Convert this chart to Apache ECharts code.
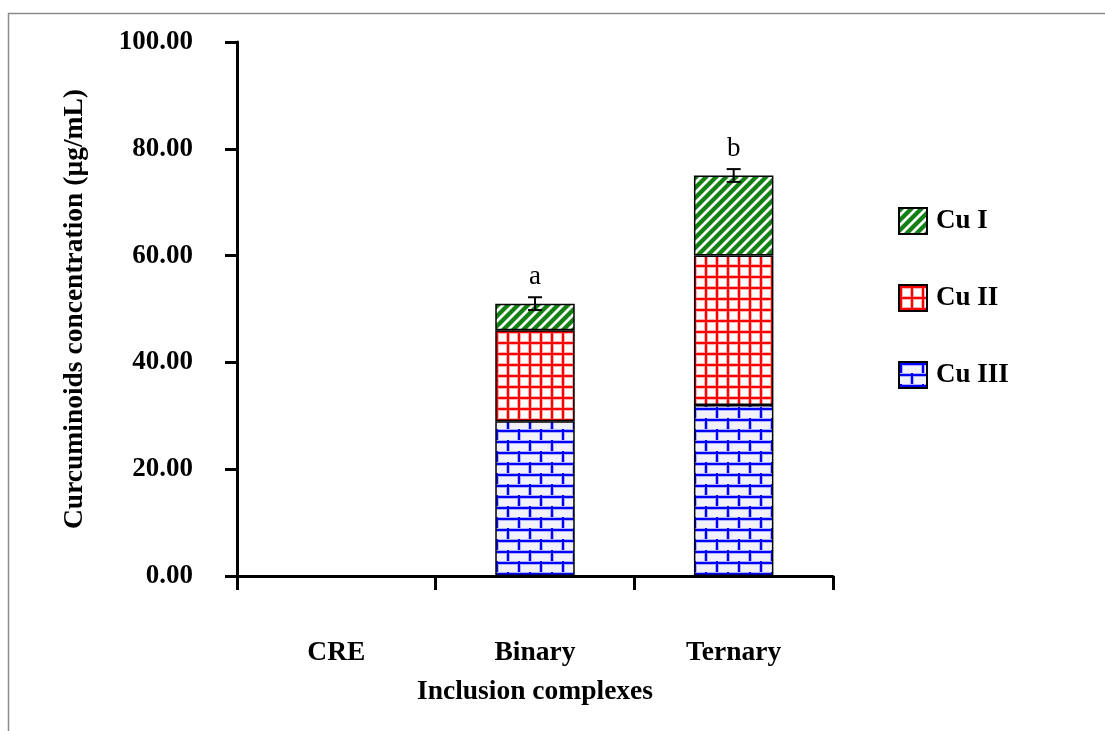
<!DOCTYPE html>
<html>
<head>
<meta charset="utf-8">
<style>
  html, body { margin: 0; padding: 0; background: #fff; }
  #chart { width: 1105px; height: 731px; }
</style>
<script src="https://cdn.jsdelivr.net/npm/echarts@6/dist/echarts.min.js"></script>
</head>
<body>
<div id="chart"></div>
<script>
// Inclusion complexes and curcuminoid fractions (µg/mL)
const categories = ['CRE', 'Binary', 'Ternary'];
const cuIII = [null, 29, 32];
const cuII = [null, 17, 28];
const cuI = [null, 5, 15];
const errors = [null, 1.2, 1.2];
const letters = ['', 'a', 'b'];
const yTicks = { min: 0, max: 100, interval: 20 };

const FONT = '"Liberation Serif", "Times New Roman", serif';

// Hatch fills
function makeTile(w, h, draw) {
  const c = document.createElement('canvas');
  c.width = w; c.height = h;
  const ctx = c.getContext('2d');
  ctx.fillStyle = '#ffffff';
  ctx.fillRect(0, 0, w, h);
  draw(ctx, w, h);
  return c;
}
const stripeTile = makeTile(10, 10, (ctx, w, h) => {
  const img = ctx.getImageData(0, 0, w, h);
  for (let y = 0; y < h; y++) {
    for (let x = 0; x < w; x++) {
      const p = (x + y) % 10;
      const i = (y * w + x) * 4;
      let r = 255, g = 255, b = 255;
      if (p < 5) { r = 18; g = 128; b = 18; }
      else if (p === 5 || p === 9) { r = 130; g = 190; b = 130; }
      img.data[i] = r; img.data[i + 1] = g; img.data[i + 2] = b; img.data[i + 3] = 255;
    }
  }
  ctx.putImageData(img, 0, 0);
});
const gridTile = makeTile(11, 11, (ctx) => {
  ctx.fillStyle = '#ffb0b0';
  ctx.fillRect(0, 0, 4, 11);
  ctx.fillRect(0, 0, 11, 4);
  ctx.fillStyle = '#ff0000';
  ctx.fillRect(1, 0, 2, 11);
  ctx.fillRect(0, 1, 11, 2);
});
const brickTile = makeTile(22, 22, (ctx) => {
  ctx.fillStyle = '#f2f2ff';
  ctx.fillRect(0, 0, 22, 22);
  ctx.fillStyle = '#b0b0ff';
  ctx.fillRect(0, 0, 22, 4);
  ctx.fillRect(0, 11, 22, 4);
  ctx.fillRect(0, 0, 4, 11);
  ctx.fillRect(11, 11, 4, 11);
  ctx.fillStyle = '#0000ff';
  ctx.fillRect(0, 1, 22, 2);
  ctx.fillRect(0, 12, 22, 2);
  ctx.fillRect(1, 0, 2, 11);
  ctx.fillRect(12, 11, 2, 11);
});

const totals = categories.map((_, i) =>
  cuIII[i] == null ? null : cuIII[i] + cuII[i] + cuI[i]);
const errData = categories.map((_, i) =>
  totals[i] == null ? null : [i, totals[i], errors[i], letters[i]]).filter(Boolean);

const barStyle = (tile) => ({
  color: { image: tile, repeat: 'repeat' },
  borderColor: '#000',
  borderWidth: 1.5
});

const chart = echarts.init(document.getElementById('chart'), null, { renderer: 'canvas' });
chart.setOption({
  animation: false,
  backgroundColor: '#fff',
  graphic: [
    { type: 'polyline', shape: { points: [[8.5, 731], [8.5, 13.5], [1105, 13.5]] },
      style: { stroke: '#8c8c8c', lineWidth: 1.5, fill: null } }
  ],
  grid: { left: 237, right: 272, top: 42, bottom: 155 },
  legend: {
    data: ['Cu I', 'Cu II', 'Cu III'],
    orient: 'vertical',
    left: 893,
    top: 202,
    icon: 'rect',
    itemWidth: 28,
    itemHeight: 26,
    itemGap: 49,
    selectedMode: false,
    textStyle: { fontFamily: FONT, fontWeight: 'bold', fontSize: 27, color: '#000', padding: [0, 0, 0, 4] }
  },
  xAxis: {
    type: 'category',
    data: categories,
    name: 'Inclusion complexes',
    nameLocation: 'middle',
    nameGap: 102,
    nameTextStyle: { fontFamily: FONT, fontWeight: 'bold', fontSize: 27.5, color: '#000' },
    axisLine: { lineStyle: { color: '#000', width: 3 } },
    axisTick: { show: true, length: 14, lineStyle: { color: '#000', width: 3 } },
    axisLabel: { margin: 63, fontFamily: FONT, fontWeight: 'bold', fontSize: 27.5, color: '#000' }
  },
  yAxis: {
    type: 'value',
    min: yTicks.min,
    max: yTicks.max,
    interval: yTicks.interval,
    name: 'Curcuminoids concentration (µg/mL)',
    nameLocation: 'middle',
    nameGap: 148,
    nameTextStyle: { fontFamily: FONT, fontWeight: 'bold', fontSize: 27.5, color: '#000' },
    splitLine: { show: false },
    axisLine: { show: true, lineStyle: { color: '#000', width: 3 } },
    axisTick: { show: true, length: 12, lineStyle: { color: '#000', width: 3 } },
    axisLabel: {
      margin: 44, fontFamily: FONT, fontWeight: 'bold', fontSize: 27, color: '#000',
      formatter: (v) => v.toFixed(2)
    }
  },
  series: [
    { name: 'Cu III', type: 'bar', stack: 'cu', barWidth: '40%', data: cuIII, itemStyle: barStyle(brickTile) },
    { name: 'Cu II', type: 'bar', stack: 'cu', data: cuII, itemStyle: barStyle(gridTile) },
    { name: 'Cu I', type: 'bar', stack: 'cu', data: cuI, itemStyle: barStyle(stripeTile) },
    {
      name: 'error',
      type: 'custom',
      data: errData,
      z: 10,
      renderItem: (params, api) => {
        const x = api.value(0);
        const top = api.coord([x, api.value(1) + api.value(2)]);
        const bot = api.coord([x, api.value(1) - api.value(2)]);
        const half = 7;
        const ls = { stroke: '#000', lineWidth: 2 };
        return {
          type: 'group',
          children: [
            { type: 'line', shape: { x1: top[0], y1: top[1], x2: bot[0], y2: bot[1] }, style: ls },
            { type: 'line', shape: { x1: top[0] - half, y1: top[1], x2: top[0] + half, y2: top[1] }, style: ls },
            { type: 'line', shape: { x1: bot[0] - half, y1: bot[1], x2: bot[0] + half, y2: bot[1] }, style: ls },
            { type: 'text', style: {
                text: api.value(3), x: top[0], y: top[1] - 7,
                textAlign: 'center', textVerticalAlign: 'bottom',
                font: '27px ' + FONT, fill: '#000'
              } }
          ]
        };
      }
    }
  ]
});
</script>
</body>
</html>
